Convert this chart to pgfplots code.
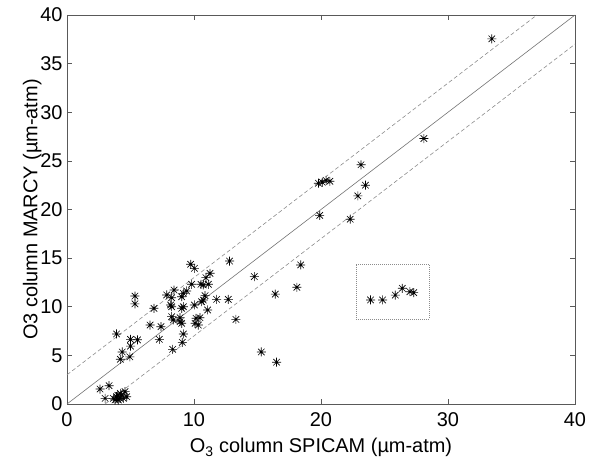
\documentclass[border=0pt]{standalone}
\usepackage{pgfplots}
\pgfplotsset{compat=1.18}
\usepackage{fontspec}
\setmainfont{Liberation Sans}
\pgfdeclareplotmark{mstar}{%
  \pgfpathmoveto{\pgfqpoint{-\pgfplotmarksize}{0pt}}\pgfpathlineto{\pgfqpoint{\pgfplotmarksize}{0pt}}%
  \pgfpathmoveto{\pgfqpoint{0pt}{-\pgfplotmarksize}}\pgfpathlineto{\pgfqpoint{0pt}{\pgfplotmarksize}}%
  \pgfpathmoveto{\pgfqpoint{-0.72\pgfplotmarksize}{-0.72\pgfplotmarksize}}\pgfpathlineto{\pgfqpoint{0.72\pgfplotmarksize}{0.72\pgfplotmarksize}}%
  \pgfpathmoveto{\pgfqpoint{-0.72\pgfplotmarksize}{0.72\pgfplotmarksize}}\pgfpathlineto{\pgfqpoint{0.72\pgfplotmarksize}{-0.72\pgfplotmarksize}}%
  \pgfusepathqstroke}
\begin{document}
\begin{tikzpicture}
\useasboundingbox (0,0) rectangle (589bp,466bp);
\begin{axis}[
  at={(67bp,62bp)}, anchor=south west,
  scale only axis, width=508bp, height=389bp,
  xmin=0, xmax=40, ymin=0, ymax=40,
  xtick={0,10,20,30,40}, ytick={0,5,...,40},
  tick align=inside, major tick length=5bp,
  axis line style={black!65, line width=0.7bp},
  every tick/.style={black!65, line width=0.7bp},
  /pgf/number format/assume math mode=true,
  tick label style={font=\fontsize{20}{22}\selectfont},
  xticklabel style={yshift=-5bp},
  yticklabel style={xshift=-1bp},
  label style={font=\fontsize{20}{22}\selectfont},
  xlabel={O\textsubscript{3} column SPICAM (µm-atm)},
  ylabel={O3 column MARCY (µm-atm)},
  xlabel style={yshift=-5bp},
  ylabel style={yshift=-8bp},
  clip=false,
]
\addplot[black!55, line width=0.6bp] coordinates {(0,0) (40,40)};
\addplot[black!45, line width=0.6bp, dash pattern=on 4bp off 2.5bp] coordinates {(0,3) (37,40)};
\addplot[black!45, line width=0.6bp, dash pattern=on 4bp off 2.5bp] coordinates {(3,0) (40,37)};
\addplot[black!45, line width=0.6bp, dash pattern=on 0.8bp off 1.2bp] coordinates {(22.75,8.75) (28.5,8.75) (28.5,14.4) (22.75,14.4) (22.75,8.75)};
\addplot[only marks, mark=mstar, mark size=4.5bp, mark options={black, line width=0.65bp}] table {
x y
33.45 37.55
28.1 27.3
23.15 24.6
23.5 22.5
22.9 21.4
22.3 19.0
19.9 19.4
19.8 22.7
20.1 22.8
20.4 23.0
20.7 22.9
18.4 14.3
18.1 12.0
14.75 13.1
16.4 11.3
13.3 8.7
15.3 5.35
16.5 4.3
12.8 14.7
23.9 10.7
24.85 10.7
25.85 11.2
26.4 11.9
27.0 11.55
27.3 11.45
9.74 14.37
10.03 13.95
11.26 13.44
10.94 12.99
11.13 12.31
10.73 12.24
10.55 12.31
9.81 12.31
8.43 11.72
7.85 11.21
8.24 10.93
9.16 11.38
9.42 11.62
9.03 11.03
10.87 11.14
10.73 10.69
10.6 10.52
11.78 10.76
12.70 10.76
6.85 9.84
8.16 10.18
8.24 10.0
9.16 10.0
9.03 9.84
10.03 10.18
11.07 9.67
8.24 8.98
8.9 8.87
8.9 8.46
9.03 8.3
8.37 8.64
10.16 8.81
10.47 8.87
10.08 8.30
10.34 8.12
7.4 7.95
7.27 6.65
9.16 7.2
9.08 6.34
8.32 5.62
6.54 8.12
5.35 11.1
5.35 10.3
3.9 7.2
5.0 6.65
5.0 5.95
5.55 6.6
4.35 5.35
4.2 4.6
4.95 4.85
2.6 1.54
3.31 1.88
3.0 0.58
3.65 0.58
3.9 0.75
4.04 0.41
4.3 0.93
4.44 0.58
4.57 1.27
4.7 0.75
4.17 0.58
3.78 0.41
4.2 1.1
4.0 0.9
};
\end{axis}
\end{tikzpicture}
\end{document}
